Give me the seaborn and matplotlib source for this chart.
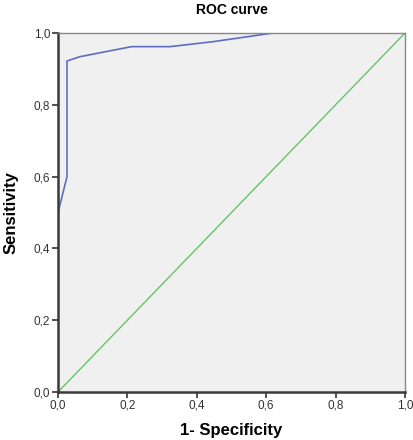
import seaborn as sns
import pandas as pd
import matplotlib.pyplot as plt

# ROC-Kurve, Werte
fpr = [0.0, 0.0, 0.026, 0.026, 0.063, 0.212, 0.323, 0.448, 0.62, 1.0]
tpr = [0.0, 0.5, 0.60, 0.922, 0.934, 0.962, 0.962, 0.976, 1.0, 1.0]
ref_x = [0.0, 1.0]
ref_y = [0.0, 1.0]
ticks = [0.0, 0.2, 0.4, 0.6, 0.8, 1.0]
tick_labels = ["0,0", "0,2", "0,4", "0,6", "0,8", "1,0"]

sns.set_style("white")
plt.rcParams['font.family'] = ['Liberation Sans', 'DejaVu Sans']

roc = pd.DataFrame({"fpr": fpr, "tpr": tpr})
ref = pd.DataFrame({"x": ref_x, "y": ref_y})

fig = plt.figure(figsize=(4.13, 4.4), dpi=100)
ax = fig.add_axes([58 / 413, 48 / 440, 347 / 413, 359 / 440])
ax.set_facecolor("#f0f0f0")

sns.lineplot(data=ref, x="x", y="y", color="#66c466", linewidth=1, ax=ax)
sns.lineplot(data=roc, x="fpr", y="tpr", color="#5b6fc2", linewidth=1.2,
             sort=False, estimator=None, ax=ax)

ax.set_xlim(0, 1)
ax.set_ylim(0, 1)
ax.set_xticks(ticks)
ax.set_xticklabels(tick_labels)
ax.set_yticks(ticks)
ax.set_yticklabels(tick_labels)
ax.tick_params(axis="both", direction="out", length=4, width=1.2,
               color="#333333", labelsize=8.5, labelcolor="#333333", pad=1.5)
ax.tick_params(left=True, bottom=True)

for side in ["left", "bottom"]:
    ax.spines[side].set_color("#3a3a3a")
    ax.spines[side].set_linewidth(1.8)
for side in ["top", "right"]:
    ax.spines[side].set_color("#888888")
    ax.spines[side].set_linewidth(1.0)

ax.set_title("ROC curve", fontsize=10, fontweight="bold", pad=14, color="black")
ax.set_xlabel("1- Specificity", fontsize=12, fontweight="bold", labelpad=8, color="black")
ax.set_ylabel("Sensitivity", fontsize=12, fontweight="bold", labelpad=11, color="black")

fig.savefig("out.png", dpi=100)
